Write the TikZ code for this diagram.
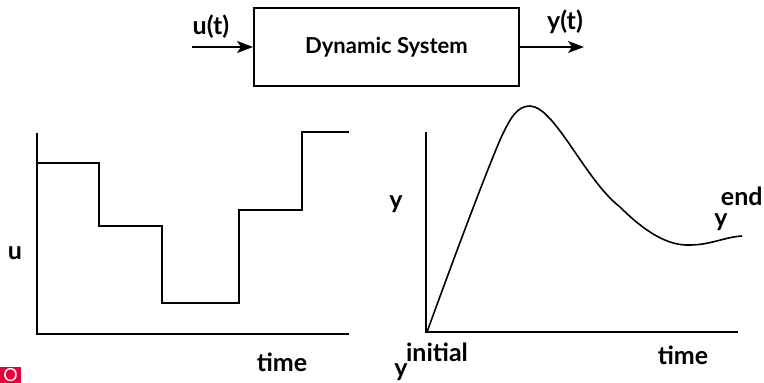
\documentclass[tikz,border=0pt]{standalone}
\usepackage{fontspec}
\setmainfont{Lato}
\usetikzlibrary{arrows.meta}
\definecolor{ink}{HTML}{000000}
\definecolor{tag}{HTML}{E8003C}

\begin{document}
\begin{tikzpicture}[x=0.5pt,y=-0.5pt,
  font=\fontsize{11}{13}\selectfont\bfseries, text=ink,
  sig/.style={-{Stealth[length=8pt,width=6pt,inset=2pt]}, line width=0.6pt, draw=ink},
  block/.style={draw=ink, line width=1pt, minimum width=132.5pt, minimum height=39pt,
                inner sep=0pt},
  axis/.style={line width=0.8pt, draw=ink},
  trace/.style={line width=0.8pt, draw=ink},
  lbl/.style={inner sep=0pt, font=\fontsize{12.5}{14}\selectfont\bfseries}]

\path[use as bounding box] (0,0) rectangle (764,383);

% ------------------------------------------------------------------ block diagram
\node[block] (sys) at (386.5,47) {Dynamic System};
\coordinate (uin) at (192,47);
\coordinate (yout) at (584,47);
\draw[sig] (uin) -- (sys.west);
\draw[sig] (sys.east) -- (yout);
\node[lbl] (ulab) at (211,27) {u(t)};
\node[lbl] (ylab) at (565,22) {y(t)};

% ------------------------------------------------------------------ input plot
\draw[axis] (37,133) -- (37,334) -- (349,334);
\draw[trace] (37,163) -- (99,163) -- (99,226) -- (162,226) -- (162,303)
  -- (239,303) -- (239,210) -- (302,210) -- (302,132) -- (349,132);
\node[lbl] (uax) at (15,253) {u};
\node[lbl] (tleft) at (282,362) {time};

% ------------------------------------------------------------------ output plot
\draw[axis] (426,132) -- (426,332) -- (738,332);
\draw[trace] (427,332) .. controls (455,255) and (485,175) .. (500,140)
  .. controls (510,118) and (517,106) .. (530,106)
  .. controls (555,107) and (585,180) .. (620,207)
  .. controls (645,232) and (668,246) .. (690,245)
  .. controls (710,245) and (725,237) .. (742,236);
\node[lbl] (yax) at (396,204) {y};
\node[lbl] (yend) at (721,222) {y};
\node[lbl, anchor=east] (endlab) at (763,196) {end};
\node[lbl] (inilab) at (437,352) {initial};
\node[lbl] (yini) at (401,372) {y};
\node[lbl] (tright) at (683,355) {time};

% ------------------------------------------------------------------ corner tag
\fill[tag] (0,367) rectangle (21,383);
\node[lbl, text=white, font=\fontsize{9}{9}\selectfont] (tagO) at (10.5,375) {O};
\end{tikzpicture}
\end{document}
